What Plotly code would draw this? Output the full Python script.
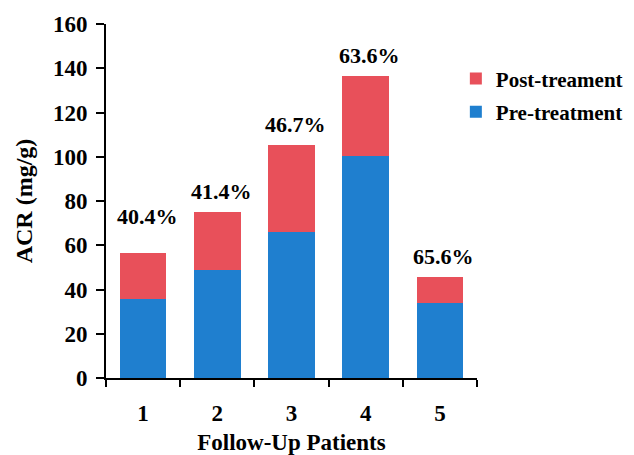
import plotly.graph_objects as go

patients = ["1", "2", "3", "4", "5"]
pre_treatment = [35.7, 48.8, 65.8, 100.5, 33.7]
post_treatment = [20.9, 26.2, 39.4, 36.1, 12.1]
pct_labels = ["40.4%", "41.4%", "46.7%", "63.6%", "65.6%"]

RED = "#E8505A"
BLUE = "#1F7FCF"
FONT = "Liberation Serif"

fig = go.Figure()
fig.add_trace(go.Bar(x=patients, y=pre_treatment, name="Pre-treatment",
                     marker=dict(color=BLUE, line=dict(width=0)), legendgroup="a", legendrank=2))
fig.add_trace(go.Bar(x=patients, y=post_treatment, name="Post-treament",
                     marker=dict(color=RED, line=dict(width=0)), legendgroup="b", legendrank=1))

totals = [a + b for a, b in zip(pre_treatment, post_treatment)]
for i, (t, lab) in enumerate(zip(totals, pct_labels)):
    fig.add_annotation(x=i, y=t, text=lab, showarrow=False,
                       yanchor="bottom", yshift=22 if i == 0 else 6, xshift=4,
                       font=dict(family=FONT, size=22, color="black", weight="bold"))

# page body adds an 8px offset; sizes compensate so the plot area lands where the reference has it
fig.update_layout(
    width=626, height=447,
    margin=dict(l=98, r=157, t=16, b=77, autoexpand=False),
    plot_bgcolor="white", paper_bgcolor="white",
    barmode="stack", bargap=0.37,
    font=dict(family=FONT, color="black"),
    showlegend=True,
    legend=dict(x=0.943, y=0.903, xanchor="left", yanchor="top",
                font=dict(family=FONT, size=21, color="black", weight="bold"),
                tracegroupgap=3, bgcolor="rgba(0,0,0,0)"),
)
fig.update_xaxes(
    type="category", tickson="boundaries", ticks="outside", ticklen=7, tickwidth=2,
    range=[-0.5, 4.5], automargin=False,
    tickcolor="black", showline=True, linecolor="black", linewidth=2,
    showgrid=False, tickfont=dict(family=FONT, size=23, color="black", weight="bold"),
    ticklabelstandoff=13,
    title=dict(text="Follow-Up Patients", font=dict(family=FONT, size=23, color="black", weight="bold"),
               standoff=10),
)
fig.update_yaxes(
    range=[0, 160], dtick=20, ticks="outside", ticklen=8, tickwidth=2, automargin=False,
    tickcolor="black", showline=True, linecolor="black", linewidth=2,
    showgrid=False, zeroline=False, tickfont=dict(family=FONT, size=23, color="black", weight="bold"),
    ticklabelstandoff=4,
    title=dict(text="ACR (mg/g)", font=dict(family=FONT, size=24, color="black", weight="bold"),
               standoff=14),
)

fig.write_html("out.html")
